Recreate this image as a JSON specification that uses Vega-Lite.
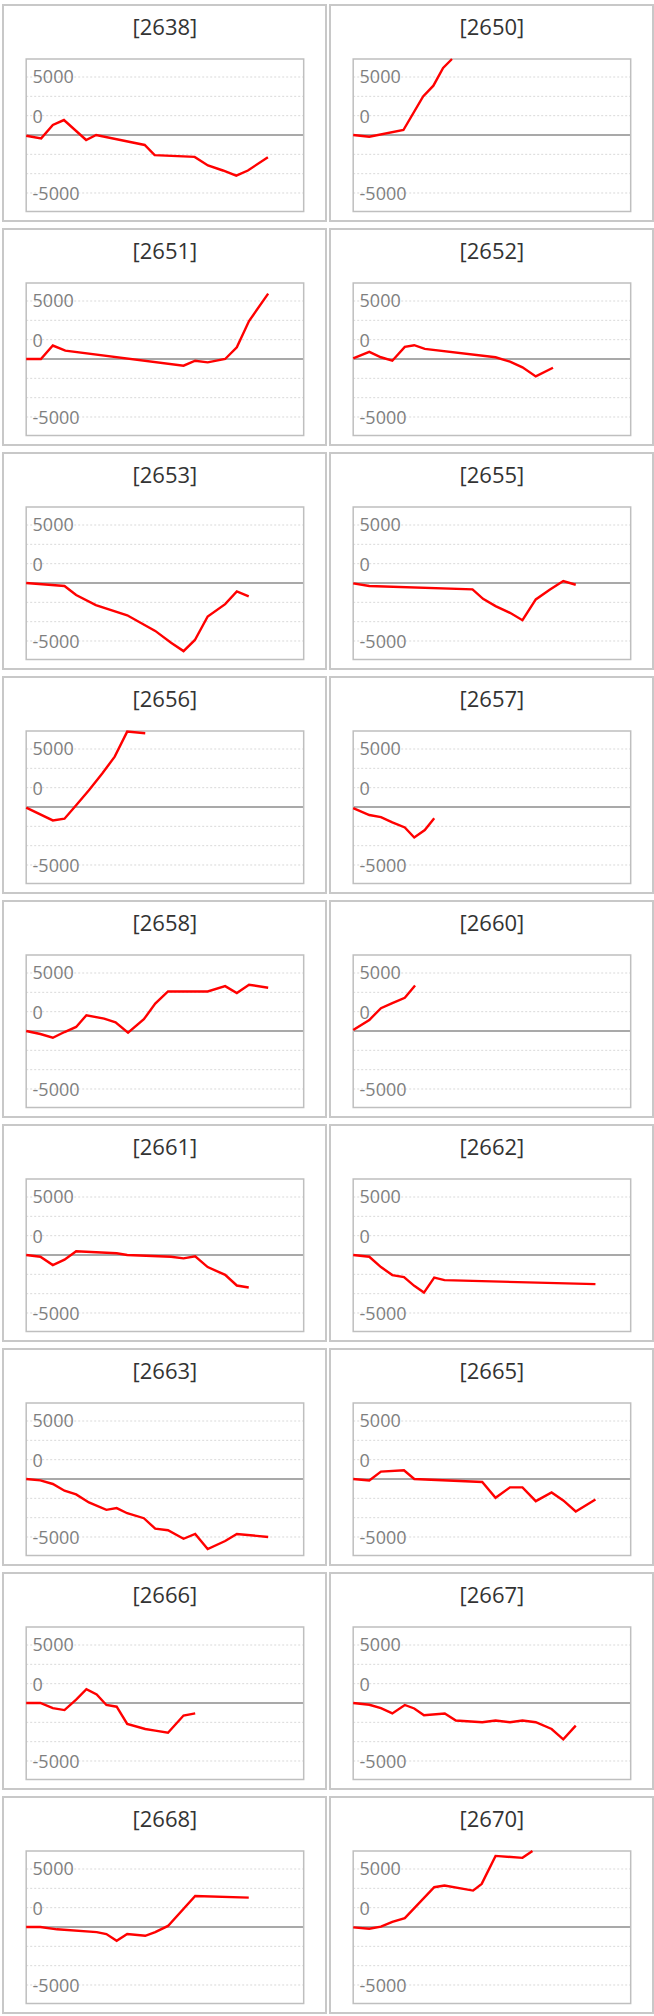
{
  "$schema": "https://vega.github.io/schema/vega-lite/v6.json",
  "padding": {"left": 2, "top": 4, "right": 0, "bottom": 0},
  "background": "white",
  "data": {
    "values": [
      {"p": "[2638]", "t": 0, "v": -60}, {"p": "[2638]", "t": 5.4, "v": -290}, {"p": "[2638]", "t": 9.6, "v": 860}, {"p": "[2638]", "t": 13.6, "v": 1290},
      {"p": "[2638]", "t": 21.6, "v": -430}, {"p": "[2638]", "t": 25.2, "v": 0}, {"p": "[2638]", "t": 42.7, "v": -860}, {"p": "[2638]", "t": 46.3, "v": -1740},
      {"p": "[2638]", "t": 60.7, "v": -1890}, {"p": "[2638]", "t": 65.5, "v": -2630}, {"p": "[2638]", "t": 70.9, "v": -3060}, {"p": "[2638]", "t": 75.7, "v": -3510},
      {"p": "[2638]", "t": 79.9, "v": -3060}, {"p": "[2638]", "t": 87.1, "v": -1910},

      {"p": "[2650]", "t": 0, "v": 0}, {"p": "[2650]", "t": 5.8, "v": -150}, {"p": "[2650]", "t": 18.1, "v": 430}, {"p": "[2650]", "t": 25.2, "v": 3320},
      {"p": "[2650]", "t": 28.9, "v": 4250}, {"p": "[2650]", "t": 32.4, "v": 5780}, {"p": "[2650]", "t": 35.6, "v": 6550},

      {"p": "[2651]", "t": 0, "v": 0}, {"p": "[2651]", "t": 5.3, "v": 0}, {"p": "[2651]", "t": 9.6, "v": 1160}, {"p": "[2651]", "t": 14.1, "v": 720},
      {"p": "[2651]", "t": 56.7, "v": -580}, {"p": "[2651]", "t": 60.9, "v": -150}, {"p": "[2651]", "t": 65.4, "v": -290}, {"p": "[2651]", "t": 71.7, "v": 0},
      {"p": "[2651]", "t": 75.9, "v": 1010}, {"p": "[2651]", "t": 80.3, "v": 3270}, {"p": "[2651]", "t": 87.2, "v": 5640},

      {"p": "[2652]", "t": 0, "v": 60}, {"p": "[2652]", "t": 5.8, "v": 610}, {"p": "[2652]", "t": 10, "v": 150}, {"p": "[2652]", "t": 14.1, "v": -150},
      {"p": "[2652]", "t": 18.6, "v": 1040}, {"p": "[2652]", "t": 22, "v": 1190}, {"p": "[2652]", "t": 25.8, "v": 870}, {"p": "[2652]", "t": 51.3, "v": 150},
      {"p": "[2652]", "t": 56.5, "v": -230}, {"p": "[2652]", "t": 61, "v": -720}, {"p": "[2652]", "t": 65.8, "v": -1500}, {"p": "[2652]", "t": 72, "v": -750},

      {"p": "[2653]", "t": 0, "v": 0}, {"p": "[2653]", "t": 13.8, "v": -260}, {"p": "[2653]", "t": 18, "v": -1040}, {"p": "[2653]", "t": 25.1, "v": -1910},
      {"p": "[2653]", "t": 36.4, "v": -2780}, {"p": "[2653]", "t": 46.5, "v": -4130}, {"p": "[2653]", "t": 52.2, "v": -5150}, {"p": "[2653]", "t": 56.7, "v": -5870},
      {"p": "[2653]", "t": 60.8, "v": -4910}, {"p": "[2653]", "t": 65.4, "v": -2890}, {"p": "[2653]", "t": 71.7, "v": -1820}, {"p": "[2653]", "t": 75.9, "v": -720},
      {"p": "[2653]", "t": 80.2, "v": -1160},

      {"p": "[2655]", "t": 0, "v": -30}, {"p": "[2655]", "t": 5.8, "v": -260}, {"p": "[2655]", "t": 43, "v": -550}, {"p": "[2655]", "t": 46.8, "v": -1360},
      {"p": "[2655]", "t": 51.3, "v": -1990}, {"p": "[2655]", "t": 56.5, "v": -2570}, {"p": "[2655]", "t": 61, "v": -3210}, {"p": "[2655]", "t": 65.8, "v": -1420},
      {"p": "[2655]", "t": 70.8, "v": -580}, {"p": "[2655]", "t": 75.7, "v": 170}, {"p": "[2655]", "t": 80.2, "v": -150},

      {"p": "[2656]", "t": 0, "v": -50}, {"p": "[2656]", "t": 9.6, "v": -1160}, {"p": "[2656]", "t": 13.8, "v": -1010}, {"p": "[2656]", "t": 18, "v": 150},
      {"p": "[2656]", "t": 22.6, "v": 1450}, {"p": "[2656]", "t": 27.4, "v": 2890}, {"p": "[2656]", "t": 31.9, "v": 4340}, {"p": "[2656]", "t": 36.4, "v": 6500},
      {"p": "[2656]", "t": 42.9, "v": 6360},

      {"p": "[2657]", "t": 0, "v": -90}, {"p": "[2657]", "t": 5.8, "v": -690}, {"p": "[2657]", "t": 10, "v": -870}, {"p": "[2657]", "t": 14.1, "v": -1330},
      {"p": "[2657]", "t": 18.6, "v": -1760}, {"p": "[2657]", "t": 22, "v": -2630}, {"p": "[2657]", "t": 25.8, "v": -1990}, {"p": "[2657]", "t": 29.2, "v": -980},

      {"p": "[2658]", "t": 0, "v": 0}, {"p": "[2658]", "t": 5.1, "v": -260}, {"p": "[2658]", "t": 9.6, "v": -580}, {"p": "[2658]", "t": 13.8, "v": -90},
      {"p": "[2658]", "t": 18, "v": 350}, {"p": "[2658]", "t": 21.7, "v": 1360}, {"p": "[2658]", "t": 28.1, "v": 1070}, {"p": "[2658]", "t": 32.2, "v": 750},
      {"p": "[2658]", "t": 36.7, "v": -150}, {"p": "[2658]", "t": 42.4, "v": 1010}, {"p": "[2658]", "t": 46.5, "v": 2370}, {"p": "[2658]", "t": 51.1, "v": 3410},
      {"p": "[2658]", "t": 65.4, "v": 3410}, {"p": "[2658]", "t": 71.7, "v": 3870}, {"p": "[2658]", "t": 75.9, "v": 3270}, {"p": "[2658]", "t": 80.3, "v": 3990},
      {"p": "[2658]", "t": 87.2, "v": 3730},

      {"p": "[2660]", "t": 0, "v": 90}, {"p": "[2660]", "t": 5.8, "v": 950}, {"p": "[2660]", "t": 10, "v": 1970}, {"p": "[2660]", "t": 14.1, "v": 2400},
      {"p": "[2660]", "t": 18.6, "v": 2860}, {"p": "[2660]", "t": 22.3, "v": 3930},

      {"p": "[2661]", "t": 0, "v": 0}, {"p": "[2661]", "t": 5.1, "v": -150}, {"p": "[2661]", "t": 9.6, "v": -870}, {"p": "[2661]", "t": 13.8, "v": -400},
      {"p": "[2661]", "t": 18, "v": 320}, {"p": "[2661]", "t": 32.6, "v": 150}, {"p": "[2661]", "t": 36.4, "v": 0}, {"p": "[2661]", "t": 52.2, "v": -150},
      {"p": "[2661]", "t": 56.7, "v": -290}, {"p": "[2661]", "t": 60.9, "v": -120}, {"p": "[2661]", "t": 65.4, "v": -1040}, {"p": "[2661]", "t": 71.7, "v": -1710},
      {"p": "[2661]", "t": 75.9, "v": -2630}, {"p": "[2661]", "t": 80.2, "v": -2800},

      {"p": "[2662]", "t": 0, "v": 0}, {"p": "[2662]", "t": 5.8, "v": -150}, {"p": "[2662]", "t": 10, "v": -1040}, {"p": "[2662]", "t": 14.1, "v": -1730},
      {"p": "[2662]", "t": 18.3, "v": -1910}, {"p": "[2662]", "t": 22, "v": -2660}, {"p": "[2662]", "t": 25.5, "v": -3240}, {"p": "[2662]", "t": 29.2, "v": -1940},
      {"p": "[2662]", "t": 32.9, "v": -2170}, {"p": "[2662]", "t": 87.3, "v": -2510},

      {"p": "[2663]", "t": 0, "v": 0}, {"p": "[2663]", "t": 5.1, "v": -120}, {"p": "[2663]", "t": 9.6, "v": -430}, {"p": "[2663]", "t": 13.8, "v": -1010},
      {"p": "[2663]", "t": 18, "v": -1330}, {"p": "[2663]", "t": 22.6, "v": -2020}, {"p": "[2663]", "t": 28.9, "v": -2660}, {"p": "[2663]", "t": 32.6, "v": -2510},
      {"p": "[2663]", "t": 36.4, "v": -2950}, {"p": "[2663]", "t": 42.4, "v": -3380}, {"p": "[2663]", "t": 46.5, "v": -4280}, {"p": "[2663]", "t": 51.1, "v": -4420},
      {"p": "[2663]", "t": 56.7, "v": -5150}, {"p": "[2663]", "t": 60.9, "v": -4740}, {"p": "[2663]", "t": 65.4, "v": -6040}, {"p": "[2663]", "t": 71.7, "v": -5350},
      {"p": "[2663]", "t": 75.9, "v": -4740}, {"p": "[2663]", "t": 87.2, "v": -5000},

      {"p": "[2665]", "t": 0, "v": 0}, {"p": "[2665]", "t": 5.8, "v": -120}, {"p": "[2665]", "t": 10, "v": 640}, {"p": "[2665]", "t": 18.3, "v": 750},
      {"p": "[2665]", "t": 22, "v": 0}, {"p": "[2665]", "t": 46.5, "v": -260}, {"p": "[2665]", "t": 51.3, "v": -1620}, {"p": "[2665]", "t": 56.5, "v": -720},
      {"p": "[2665]", "t": 61, "v": -720}, {"p": "[2665]", "t": 65.8, "v": -1910}, {"p": "[2665]", "t": 71.5, "v": -1160}, {"p": "[2665]", "t": 75.7, "v": -1850},
      {"p": "[2665]", "t": 80.2, "v": -2800}, {"p": "[2665]", "t": 87.3, "v": -1760},

      {"p": "[2666]", "t": 0, "v": 0}, {"p": "[2666]", "t": 5.1, "v": 0}, {"p": "[2666]", "t": 9.6, "v": -440}, {"p": "[2666]", "t": 13.8, "v": -610},
      {"p": "[2666]", "t": 18, "v": 290}, {"p": "[2666]", "t": 21.7, "v": 1190}, {"p": "[2666]", "t": 25.4, "v": 730}, {"p": "[2666]", "t": 28.9, "v": -170},
      {"p": "[2666]", "t": 32.6, "v": -320}, {"p": "[2666]", "t": 36.4, "v": -1800}, {"p": "[2666]", "t": 42.9, "v": -2240}, {"p": "[2666]", "t": 46.5, "v": -2380},
      {"p": "[2666]", "t": 51.1, "v": -2560}, {"p": "[2666]", "t": 56.7, "v": -1080}, {"p": "[2666]", "t": 60.9, "v": -900},

      {"p": "[2667]", "t": 0, "v": 0}, {"p": "[2667]", "t": 5.8, "v": -150}, {"p": "[2667]", "t": 10, "v": -440}, {"p": "[2667]", "t": 14.1, "v": -900},
      {"p": "[2667]", "t": 18.6, "v": -170}, {"p": "[2667]", "t": 22, "v": -470}, {"p": "[2667]", "t": 25.5, "v": -1050}, {"p": "[2667]", "t": 33, "v": -900},
      {"p": "[2667]", "t": 37, "v": -1510}, {"p": "[2667]", "t": 46.5, "v": -1660}, {"p": "[2667]", "t": 51.3, "v": -1510}, {"p": "[2667]", "t": 56.5, "v": -1660},
      {"p": "[2667]", "t": 61, "v": -1510}, {"p": "[2667]", "t": 65.8, "v": -1660}, {"p": "[2667]", "t": 71.5, "v": -2240}, {"p": "[2667]", "t": 75.7, "v": -3140},
      {"p": "[2667]", "t": 80.2, "v": -1950},

      {"p": "[2668]", "t": 0, "v": 0}, {"p": "[2668]", "t": 5.1, "v": 0}, {"p": "[2668]", "t": 11.1, "v": -200}, {"p": "[2668]", "t": 25.4, "v": -440},
      {"p": "[2668]", "t": 28.9, "v": -610}, {"p": "[2668]", "t": 32.6, "v": -1190}, {"p": "[2668]", "t": 36.4, "v": -610}, {"p": "[2668]", "t": 42.9, "v": -760},
      {"p": "[2668]", "t": 46.5, "v": -440}, {"p": "[2668]", "t": 51.1, "v": 90}, {"p": "[2668]", "t": 60.9, "v": 2670}, {"p": "[2668]", "t": 80.2, "v": 2530},

      {"p": "[2670]", "t": 0, "v": -30}, {"p": "[2670]", "t": 5.8, "v": -150}, {"p": "[2670]", "t": 10, "v": 30}, {"p": "[2670]", "t": 14.1, "v": 440},
      {"p": "[2670]", "t": 18.6, "v": 760}, {"p": "[2670]", "t": 29.2, "v": 3430}, {"p": "[2670]", "t": 32.9, "v": 3580}, {"p": "[2670]", "t": 43.2, "v": 3140},
      {"p": "[2670]", "t": 46.3, "v": 3720}, {"p": "[2670]", "t": 51.3, "v": 6130}, {"p": "[2670]", "t": 61, "v": 5960}, {"p": "[2670]", "t": 64.6, "v": 6550}
    ]
  },
  "facet": {
    "field": "p",
    "type": "nominal",
    "title": null,
    "header": {"labels": false, "labelFontSize": 0, "labelPadding": 0, "labelColor": "transparent", "title": null}
  },
  "columns": 2,
  "spacing": {"row": 6, "column": 2},
  "spec": {
    "width": 323,
    "height": 216,
    "layer": [
      {
        "transform": [{"filter": "datum.t === 0"}],
        "mark": {"type": "rule", "color": "#d9d9d9", "strokeWidth": 1, "strokeDash": [2, 2]},
        "encoding": {
          "x": {"datum": 0, "type": "quantitative", "scale": {"domain": [-8.36, 108.04], "nice": false, "zero": false}, "axis": null},
          "x2": {"datum": 100},
          "y": {"datum": 5000, "type": "quantitative", "scale": {"domain": [-7414, 11207], "nice": false, "zero": false}, "axis": null}
        }
      },
      {
        "transform": [{"filter": "datum.t === 0"}],
        "mark": {"type": "rule", "color": "#d9d9d9", "strokeWidth": 1, "strokeDash": [2, 2]},
        "encoding": {
          "x": {"datum": 0, "type": "quantitative", "axis": null},
          "x2": {"datum": 100},
          "y": {"datum": 3333.33, "type": "quantitative", "axis": null}
        }
      },
      {
        "transform": [{"filter": "datum.t === 0"}],
        "mark": {"type": "rule", "color": "#d9d9d9", "strokeWidth": 1, "strokeDash": [2, 2]},
        "encoding": {
          "x": {"datum": 0, "type": "quantitative", "axis": null},
          "x2": {"datum": 100},
          "y": {"datum": 1666.67, "type": "quantitative", "axis": null}
        }
      },
      {
        "transform": [{"filter": "datum.t === 0"}],
        "mark": {"type": "rule", "color": "#d9d9d9", "strokeWidth": 1, "strokeDash": [2, 2]},
        "encoding": {
          "x": {"datum": 0, "type": "quantitative", "axis": null},
          "x2": {"datum": 100},
          "y": {"datum": -1666.67, "type": "quantitative", "axis": null}
        }
      },
      {
        "transform": [{"filter": "datum.t === 0"}],
        "mark": {"type": "rule", "color": "#d9d9d9", "strokeWidth": 1, "strokeDash": [2, 2]},
        "encoding": {
          "x": {"datum": 0, "type": "quantitative", "axis": null},
          "x2": {"datum": 100},
          "y": {"datum": -3333.33, "type": "quantitative", "axis": null}
        }
      },
      {
        "transform": [{"filter": "datum.t === 0"}],
        "mark": {"type": "rule", "color": "#d9d9d9", "strokeWidth": 1, "strokeDash": [2, 2]},
        "encoding": {
          "x": {"datum": 0, "type": "quantitative", "axis": null},
          "x2": {"datum": 100},
          "y": {"datum": -5000, "type": "quantitative", "axis": null}
        }
      },
      {
        "transform": [{"filter": "datum.t === 0"}],
        "mark": {"type": "rule", "color": "#8c8c8c", "strokeWidth": 1.5},
        "encoding": {
          "x": {"datum": 0, "type": "quantitative", "axis": null},
          "x2": {"datum": 100},
          "y": {"datum": 0, "type": "quantitative", "axis": null}
        }
      },
      {
        "transform": [{"filter": "datum.t === 0"}],
        "mark": {"type": "rect", "fill": null, "fillOpacity": 0, "stroke": "#bfbfbf", "strokeWidth": 1.5},
        "encoding": {
          "x": {"datum": 0, "type": "quantitative", "axis": null},
          "x2": {"datum": 100},
          "y": {"datum": -6600, "type": "quantitative", "axis": null},
          "y2": {"datum": 6552}
        }
      },
      {
        "transform": [{"filter": "datum.t === 0"}],
        "mark": {"type": "text", "text": "5000", "font": "Open Sans", "fontSize": 18, "color": "#7f7f7f", "align": "left", "baseline": "middle"},
        "encoding": {
          "x": {"datum": 2.3, "type": "quantitative", "axis": null},
          "y": {"datum": 4950, "type": "quantitative", "axis": null}
        }
      },
      {
        "transform": [{"filter": "datum.t === 0"}],
        "mark": {"type": "text", "text": "0", "font": "Open Sans", "fontSize": 18, "color": "#7f7f7f", "align": "left", "baseline": "middle"},
        "encoding": {
          "x": {"datum": 2.3, "type": "quantitative", "axis": null},
          "y": {"datum": 1450, "type": "quantitative", "axis": null}
        }
      },
      {
        "transform": [{"filter": "datum.t === 0"}],
        "mark": {"type": "text", "text": "-5000", "font": "Open Sans", "fontSize": 18, "color": "#7f7f7f", "align": "left", "baseline": "middle"},
        "encoding": {
          "x": {"datum": 2.3, "type": "quantitative", "axis": null},
          "y": {"datum": -5150, "type": "quantitative", "axis": null}
        }
      },
      {
        "transform": [{"filter": "datum.t === 0"}],
        "mark": {"type": "text", "font": "Open Sans", "fontSize": 22, "color": "#333333", "align": "center", "baseline": "middle"},
        "encoding": {
          "x": {"datum": 50, "type": "quantitative", "axis": null},
          "y": {"datum": 9200, "type": "quantitative", "axis": null},
          "text": {"field": "p", "type": "nominal"}
        }
      },
      {
        "mark": {"type": "line", "color": "#ff0000", "strokeWidth": 2.4},
        "encoding": {
          "x": {"field": "t", "type": "quantitative", "axis": null},
          "y": {"field": "v", "type": "quantitative", "axis": null}
        }
      }
    ]
  },
  "config": {
    "view": {"stroke": "#c8c8c8", "strokeWidth": 2, "fill": "white"},
    "header": {"labels": false, "labelFontSize": 0, "labelPadding": 0},
    "headerFacet": {"labels": false, "labelFontSize": 0, "labelPadding": 0}
  }
}
